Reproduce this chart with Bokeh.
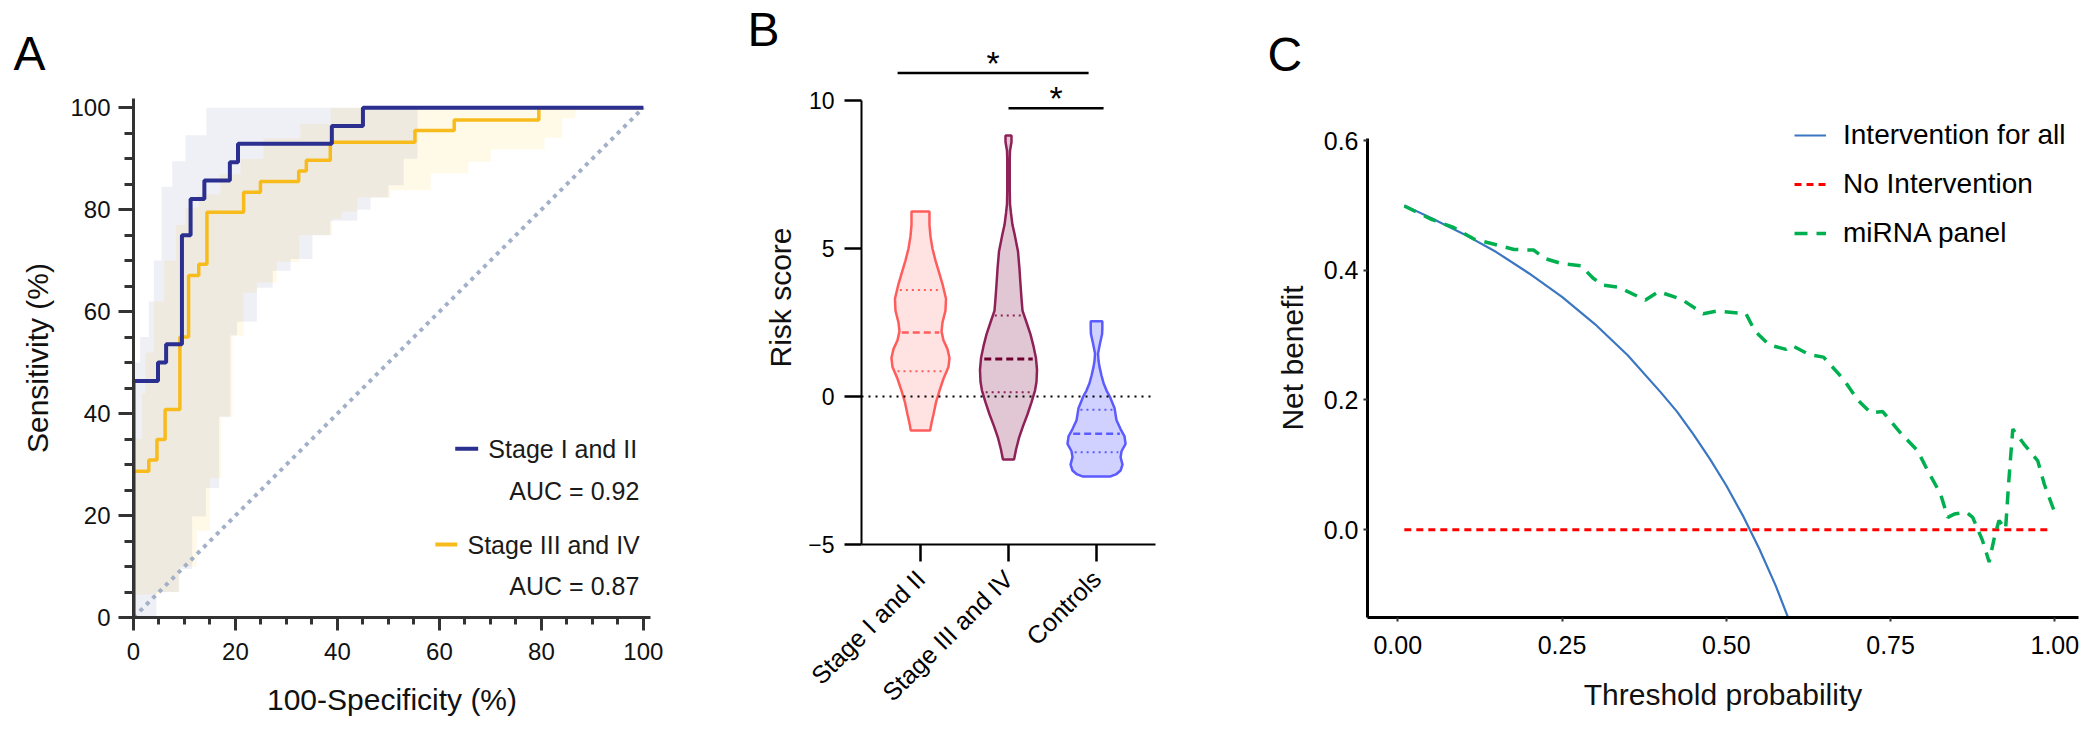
import math
import numpy as np
from bokeh.plotting import figure
from bokeh.layouts import row, column
from bokeh.models import Range1d, FixedTicker, Span, Legend, LegendItem, NumeralTickFormatter
from bokeh.core.properties import value
from bokeh.embed import file_html
from bokeh.resources import INLINE

FONT = "Liberation Sans"

# ---------------- Panel A : ROC ----------------
roc_groups = ["Stage I and II", "Stage III and IV"]
auc_values = [0.92, 0.87]
roc1_fpr = [0, 0, 4.8, 6.4, 9.5, 11.2, 13.9, 18.9, 20.5, 38.9, 45.0, 100]
roc1_tpr = [0, 46.4, 50.0, 53.6, 75.0, 82.1, 85.7, 89.3, 92.9, 96.4, 100, 100]
roc2_fpr = [0, 0, 3.0, 4.6, 6.2, 9.1, 10.8, 12.8, 14.4, 21.6, 24.9, 32.4, 33.9, 38.6, 55.2, 62.9, 79.5, 100]
roc2_tpr = [0, 28.7, 30.9, 34.9, 40.8, 55.0, 67.1, 69.3, 79.5, 83.4, 85.5, 87.6, 89.7, 93.2, 95.5, 97.6, 100, 100]
# confidence bands (step bounds)
ci1_up_x = [0, 1.3, 3.0, 4.0, 5.5, 7.6, 10.2, 14.3, 100]
ci1_up_y = [50, 55, 62, 70, 84.5, 89.5, 94.6, 100, 100]
ci1_lo_x = [0, 4.5, 8.9, 11.5, 14.2, 16.8, 19.0, 20.3, 24.2, 27.3, 30.8, 35.1, 38.6, 43.9, 46.5, 50.0, 53.0, 55.7, 100]
ci1_lo_y = [0, 5, 9.5, 19.8, 25.4, 39.4, 55.3, 58.0, 64.7, 68.0, 70.3, 75.0, 77.8, 80.0, 82.4, 84.8, 90.0, 100, 100]
ci2_up_x = [0, 1.7, 2.3, 4.0, 6.0, 8.3, 10.2, 12.8, 17.0, 21.0, 25.5, 32.7, 38.7, 100]
ci2_up_y = [35, 44, 52, 62, 70, 77, 80.4, 83, 87, 90, 94, 96.8, 100, 100]
ci2_lo_x = [0, 5, 9, 12.4, 15, 17.2, 19.4, 21.6, 24.2, 28.1, 32.5, 39, 40.8, 43.9, 50.4, 58.3, 65.7, 70.1, 80.6, 84.1, 86.7, 100]
ci2_lo_y = [4.5, 5, 10, 17, 27.3, 39.4, 55.3, 63.7, 65.7, 69.8, 75, 78.2, 79.6, 82.4, 83.8, 87.1, 89.4, 91.8, 94.1, 97.9, 100, 100]
a_ticks = [0, 20, 40, 60, 80, 100]

# ---------------- Panel B : violins ----------------
violin_groups = ["Stage I and II", "Stage III and IV", "Controls"]
v1_y = [6.25, 5.8, 5.4, 5.0, 4.6, 4.2, 3.8, 3.3, 2.9, 2.5, 2.2, 1.9, 1.6, 1.3, 1.0, 0.6, 0.2, -0.2, -0.6, -0.9, -1.15]
v1_w = [0.102, 0.102, 0.114, 0.136, 0.170, 0.210, 0.250, 0.290, 0.284, 0.250, 0.239, 0.261, 0.307, 0.330, 0.318, 0.261, 0.216, 0.176, 0.148, 0.125, 0.110]
v2_y = [8.82, 8.6, 8.3, 8.0, 7.0, 6.5, 6.2, 5.8, 5.5, 4.9, 4.3, 3.8, 3.3, 2.9, 2.5, 2.1, 1.7, 1.3, 0.9, 0.5, 0.2, -0.2, -0.6, -1.0, -1.4, -1.8, -2.13]
v2_w = [0.034, 0.034, 0.017, 0.014, 0.014, 0.017, 0.028, 0.045, 0.068, 0.108, 0.125, 0.136, 0.148, 0.159, 0.205, 0.250, 0.284, 0.312, 0.324, 0.318, 0.301, 0.261, 0.216, 0.165, 0.119, 0.085, 0.063]
v3_y = [2.54, 2.3, 2.1, 1.8, 1.45, 1.2, 1.0, 0.7, 0.45, 0.2, 0.0, -0.4, -0.8, -1.1, -1.35, -1.6, -1.85, -2.05, -2.3, -2.5, -2.62, -2.7]
v3_w = [0.066, 0.066, 0.063, 0.040, 0.017, 0.023, 0.034, 0.057, 0.080, 0.114, 0.151, 0.205, 0.227, 0.273, 0.318, 0.330, 0.284, 0.273, 0.295, 0.273, 0.227, 0.159]
v_q1 = [0.85, 0.14, -1.88]
v_med = [2.16, 1.27, -1.26]
v_q3 = [3.6, 2.74, -0.45]
b_ticks = [-5, 0, 5, 10]
sig_x0 = [0.74, 2.0]
sig_x1 = [2.91, 3.08]
sig_y = [10.93, 9.74]
sig_text = ["*", "*"]

# ---------------- Panel C : decision curve ----------------
all_thr = [0.01, 0.05, 0.10, 0.15, 0.20, 0.25, 0.30, 0.35, 0.40, 0.425, 0.45, 0.475, 0.50, 0.525, 0.55, 0.575, 0.60]
all_nb = [0.500, 0.481, 0.456, 0.428, 0.395, 0.359, 0.317, 0.269, 0.212, 0.182, 0.147, 0.109, 0.068, 0.022, -0.029, -0.086, -0.151]
none_thr = [0.01, 0.99]
none_nb = [0.0, 0.0]
mir_thr = [0.010, 0.050, 0.085, 0.116, 0.147, 0.177, 0.207, 0.224, 0.250, 0.279, 0.297, 0.312, 0.336, 0.377, 0.397,
           0.432, 0.465, 0.486, 0.530, 0.543, 0.565, 0.591, 0.600, 0.626, 0.648, 0.657, 0.679, 0.700, 0.720, 0.738,
           0.766, 0.791, 0.806, 0.826, 0.837, 0.847, 0.865, 0.875, 0.890, 0.900, 0.908, 0.915, 0.925, 0.930, 0.936,
           0.953, 0.974, 0.984, 1.000]
mir_nb = [0.499, 0.479, 0.466, 0.448, 0.440, 0.432, 0.431, 0.418, 0.410, 0.407, 0.388, 0.377, 0.374, 0.354, 0.367,
          0.355, 0.333, 0.337, 0.333, 0.307, 0.285, 0.278, 0.284, 0.270, 0.266, 0.256, 0.231, 0.200, 0.180, 0.182,
          0.148, 0.122, 0.092, 0.055, 0.019, 0.024, 0.027, 0.019, -0.017, -0.050, -0.012, 0.014, 0.001, 0.076, 0.155,
          0.132, 0.106, 0.070, 0.026]
c_xticks = [0, 0.25, 0.5, 0.75, 1.0]
c_yticks = [0, 0.2, 0.4, 0.6]

H = 745


def clean(p):
    p.grid.visible = False
    p.outline_line_color = None
    p.background_fill_color = "white"
    p.border_fill_color = "white"


def panel_title(p, txt, offset, standoff):
    p.title.text = txt
    p.title.align = "left"
    p.title.offset = offset
    try:
        p.title.standoff = standoff
    except Exception:
        p.title.standoff = max(standoff, 0)
    p.title.text_font = FONT
    p.title.text_font_size = "48px"
    p.title.text_font_style = "normal"
    p.title.text_color = "black"
    p.title.text_baseline = "alphabetic"
    p.title.vertical_align = "bottom"


def label_style(ax, size, standoff):
    ax.axis_label_text_font = FONT
    ax.axis_label_text_font_size = size
    ax.axis_label_text_font_style = "normal"
    ax.axis_label_text_color = "#111111"
    ax.axis_label_standoff = standoff


def step_band(xu, yu, xl, yl):
    bx, by = [], []
    for i in range(len(xu) - 1):
        bx += [xu[i], xu[i + 1]]
        by += [yu[i], yu[i]]
    lx, ly = [], []
    for i in range(len(xl) - 1):
        lx += [xl[i], xl[i + 1]]
        ly += [yl[i], yl[i]]
    return bx + lx[::-1], by + ly[::-1]


# ======== Figure A ========
pA = figure(width=692, height=H, x_range=Range1d(0, 101.4), y_range=Range1d(0, 101.8),
            output_backend="svg", toolbar_location=None,
            min_border_left=133, min_border_right=42, min_border_top=98, min_border_bottom=128)
clean(pA)
bx, by = step_band(ci2_up_x, ci2_up_y, ci2_lo_x, ci2_lo_y)
pA.patch(bx, by, fill_color="#FFC000", fill_alpha=0.09, line_color=None)
bx, by = step_band(ci1_up_x, ci1_up_y, ci1_lo_x, ci1_lo_y)
pA.patch(bx, by, fill_color="#2E3A8C", fill_alpha=0.075, line_color=None)
pA.line([0, 100], [0, 100], line_color="#A3B1C8", line_width=4, line_dash="4 5")
pA.step(roc2_fpr, roc2_tpr, mode="after", line_color="#F7BB1C", line_width=3.5)
pA.step(roc1_fpr, roc1_tpr, mode="after", line_color="#2B2F8F", line_width=4)
pA.segment(x0=[63.1, 59.2], y0=[33.1, 14.3], x1=[67.6, 63.5], y1=[33.1, 14.3],
           line_color=["#2B2F8F", "#F7BB1C"], line_width=4)
pA.text(x=[69.6, 65.5], y=[33.1, 14.3], text=roc_groups, text_font=value(FONT),
        text_font_size="25px", text_align="left", text_baseline="middle", text_color="#1a1a1a")
pA.text(x=[99.2, 99.2], y=[24.9, 6.1], text=["AUC = %.2f" % a for a in auc_values], text_font=value(FONT),
        text_font_size="25px", text_align="right", text_baseline="middle", text_color="#1a1a1a")
for ax in (pA.xaxis[0], pA.yaxis[0]):
    ax.ticker = FixedTicker(ticks=a_ticks, minor_ticks=list(range(5, 100, 5)))
    ax.axis_line_width = 3
    ax.axis_line_color = "#333333"
    ax.major_tick_line_width = 3
    ax.minor_tick_line_width = 3
    ax.major_tick_line_color = "#333333"
    ax.minor_tick_line_color = "#333333"
    ax.major_tick_in = 0
    ax.minor_tick_in = 0
    ax.major_label_text_font = FONT
    ax.major_label_text_font_size = "24px"
    ax.major_label_text_color = "#111111"
pA.xaxis.major_tick_out = 13
pA.xaxis.minor_tick_out = 7
pA.yaxis.major_tick_out = 15
pA.yaxis.minor_tick_out = 9
pA.xaxis.major_label_standoff = 12
pA.yaxis.major_label_standoff = 8
pA.xaxis.axis_label = "100-Specificity (%)"
pA.yaxis.axis_label = "Sensitivity (%)"
label_style(pA.xaxis[0], "30px", 20)
label_style(pA.yaxis[0], "30px", 13)
panel_title(pA, "A", -120, 38)

# ======== Figure B ========
B_TOP = 10 + 50 / 29.6
STAR_LIFT = 10 / 29.6
pB = figure(width=548, height=H, x_range=Range1d(0.33, 3.67), y_range=Range1d(-5, B_TOP),
            output_backend="svg", toolbar_location=None,
            min_border_left=169, min_border_right=85, min_border_top=50, min_border_bottom=201)
clean(pB)
pB.add_layout(Span(location=0, dimension="width", line_color="black", line_width=2, line_dash="2 5"))
v_line = ["#FF5C5C", "#8E2157", "#5B5BFF"]
v_fill = ["#FFDEDE", "#DCBDCB", "#C9C9FF"]
v_med_col = ["#FF5C5C", "#6E0030", "#5B5BFF"]
for i, (vy, vw) in enumerate([(v1_y, v1_w), (v2_y, v2_w), (v3_y, v3_w)]):
    c = i + 1
    vy = np.array(vy)
    vw = np.array(vw)
    xs = np.concatenate([c + vw, (c - vw)[::-1]])
    ys = np.concatenate([vy, vy[::-1]])
    pB.patch(xs, ys, fill_color=v_fill[i], fill_alpha=0.85, line_color=v_line[i], line_width=2.5)
    order = np.argsort(vy)
    for q, dash, lw, col in [(v_q1[i], "2 4", 2, v_line[i]), (v_q3[i], "2 4", 2, v_line[i]),
                             (v_med[i], "7 4", 3 if i == 1 else 2.5, v_med_col[i])]:
        hw = np.interp(q, vy[order], vw[order]) * 0.88
        pB.line([c - hw, c + hw], [q, q], line_color=col, line_width=lw, line_dash=dash)
pB.segment(x0=sig_x0, y0=sig_y, x1=sig_x1, y1=sig_y, line_color="black", line_width=2.5)
pB.text(x=[(a + b) / 2 for a, b in zip(sig_x0, sig_x1)], y=[s + STAR_LIFT for s in sig_y], text=sig_text,
        text_font=value(FONT), text_font_size="34px", text_align="center", text_baseline="alphabetic",
        text_color="black")
xa = pB.xaxis[0]
ya = pB.yaxis[0]
xa.ticker = FixedTicker(ticks=[1, 2, 3])
xa.major_label_overrides = {1: violin_groups[0], 2: violin_groups[1], 3: violin_groups[2]}
xa.major_label_orientation = math.pi / 4
ya.ticker = FixedTicker(ticks=b_ticks)
ya.bounds = (-5, 10)
for ax in (xa, ya):
    ax.axis_line_width = 2
    ax.axis_line_color = "black"
    ax.major_tick_line_width = 2.5
    ax.major_tick_line_color = "black"
    ax.major_tick_out = 17
    ax.major_tick_in = 0
    ax.minor_tick_out = 0
    ax.minor_tick_in = 0
    ax.major_label_text_font = FONT
    ax.major_label_text_color = "black"
xa.major_label_text_font_size = "25px"
xa.major_label_standoff = 13
ya.major_label_text_font_size = "23px"
ya.major_label_standoff = 10
ya.axis_label = "Risk score"
label_style(ya, "30px", 8)
panel_title(pB, "B", -114, -10)

# ======== Figure C ========
pC = figure(width=860, height=H, x_range=Range1d(-0.046, 1.036), y_range=Range1d(-0.1355, 0.6648),
            output_backend="svg", toolbar_location=None,
            min_border_left=127, min_border_right=22, min_border_top=98, min_border_bottom=128)
clean(pC)
r_all = pC.line(all_thr, all_nb, line_color="#3A76C2", line_width=2.2)
r_none = pC.line(none_thr, none_nb, line_color="#FF0000", line_width=3, line_dash="7 5")
r_mir = pC.line(mir_thr, mir_nb, line_color="#00B050", line_width=3.5, line_dash="13 9")
legend = Legend(items=[LegendItem(label="Intervention for all", renderers=[r_all]),
                       LegendItem(label="No Intervention", renderers=[r_none]),
                       LegendItem(label="miRNA panel", renderers=[r_mir])],
                location=(427, 364), orientation="vertical",
                label_text_font=FONT, label_text_font_size="28px", label_text_color="black",
                glyph_width=32, glyph_height=40, label_height=40, spacing=9, padding=0, margin=0,
                label_standoff=17, border_line_color=None, background_fill_alpha=0)
pC.add_layout(legend)
cx = pC.xaxis[0]
cy = pC.yaxis[0]
cx.ticker = FixedTicker(ticks=c_xticks)
cx.formatter = NumeralTickFormatter(format="0.00")
cy.ticker = FixedTicker(ticks=c_yticks)
cy.formatter = NumeralTickFormatter(format="0.0")
cy.bounds = (-0.1355, 0.603)
for ax in (cx, cy):
    ax.axis_line_width = 3
    ax.axis_line_color = "black"
    ax.major_tick_line_width = 2
    ax.major_tick_line_color = "#333333"
    ax.major_tick_out = 4
    ax.major_tick_in = 0
    ax.minor_tick_out = 0
    ax.minor_tick_in = 0
    ax.major_label_text_font = FONT
    ax.major_label_text_font_size = "25px"
    ax.major_label_text_color = "black"
cx.major_label_standoff = 14
cy.major_label_standoff = 5
cx.axis_label = "Threshold probability"
cy.axis_label = "Net benefit"
label_style(cx, "30px", 21)
label_style(cy, "30px", 12)
panel_title(pC, "C", -100, 36)

layout = row(column(pA), column(pB), column(pC), spacing=0)
open("out.html", "w").write(file_html(layout, INLINE))
